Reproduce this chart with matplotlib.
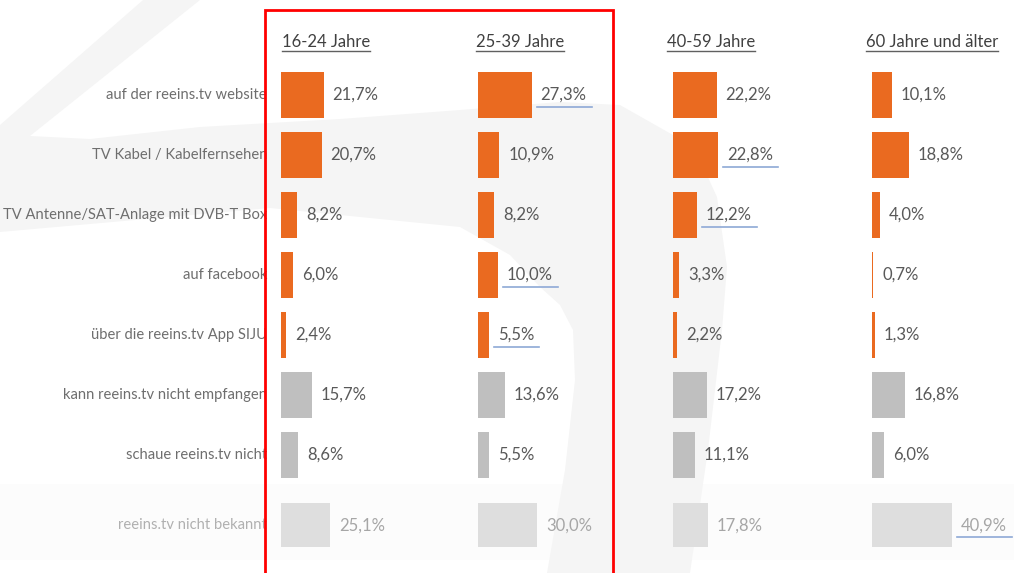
import matplotlib
matplotlib.use("Agg")
import matplotlib.pyplot as plt
from matplotlib.patches import Polygon, Rectangle
from matplotlib.lines import Line2D
from matplotlib.transforms import IdentityTransform

# ---------------- data ----------------
categories = [
    "auf der reeins.tv website",
    "TV Kabel / Kabelfernsehen",
    "TV Antenne/SAT-Anlage mit DVB-T Box",
    "auf facebook",
    "über die reeins.tv App SIJU",
    "kann reeins.tv nicht empfangen",
    "schaue reeins.tv nicht",
    "reeins.tv nicht bekannt",
]
groups = ["16-24 Jahre", "25-39 Jahre", "40-59 Jahre", "60 Jahre und älter"]
v_16_24 = [21.7, 20.7, 8.2, 6.0, 2.4, 15.7, 8.6, 25.1]
v_25_39 = [27.3, 10.9, 8.2, 10.0, 5.5, 13.6, 5.5, 30.0]
v_40_59 = [22.2, 22.8, 12.2, 3.3, 2.2, 17.2, 11.1, 17.8]
v_60_plus = [10.1, 18.8, 4.0, 0.7, 1.3, 16.8, 6.0, 40.9]
values = [v_16_24, v_25_39, v_40_59, v_60_plus]

# style: which value labels carry a blue underline (group index, row index)
underlined = {(1, 0), (1, 3), (1, 4), (2, 1), (2, 2), (3, 7)}

# ---------------- style ----------------
plt.rcParams['font.family'] = ['Lato', 'DejaVu Sans']
W, H = 1014, 573
ORANGE = '#EA6A20'
GRAY = '#BFBFBF'
LIGHT = '#DEDEDE'
bar_colors = [ORANGE] * 5 + [GRAY, GRAY, LIGHT]
val_colors = ['#595959'] * 7 + ['#A6A6A6']
cat_colors = ['#6E6E6E'] * 7 + ['#B0B0B0']

fig = plt.figure(figsize=(W / 100, H / 100), dpi=100)
fig.patch.set_facecolor('white')

# background (watermark) in pixel coordinates
bg = fig.add_axes([0, 0, 1, 1], zorder=-10)
bg.set_xlim(0, W)
bg.set_ylim(H, 0)
bg.axis('off')
WM = '#F5F5F5'
bg.add_patch(Rectangle((0, 484), W, 76, color='#FCFCFC', lw=0, zorder=0))
bg.add_patch(Polygon([
    (143, 0), (200, 0), (30, 136), (90, 139), (200, 127), (340, 119),
    (460, 110), (560, 102), (620, 105), (673, 135), (700, 160), (717, 197),
    (727, 267), (722, 330), (708, 450), (690, 573), (547, 573), (565, 470),
    (575, 380), (573, 330), (560, 305), (540, 287), (510, 255), (460, 227),
    (270, 208), (0, 232), (0, 125)], closed=True,
    color=WM, lw=0, zorder=1))

# ---------------- panels ----------------
lefts_px = [281, 478, 673, 872]
px_per_pct = 1.96
ax_w_px = 130
row_pos = [0, 1, 2, 3, 4, 5, 6, 7.17]
heights = [0.77] * 7 + [0.74]
row0_px, row_px = 95, 60
ax_top_px, ax_bot_px = 62, 562

val_texts = []
for gi, (vals, L) in enumerate(zip(values, lefts_px)):
    ax = fig.add_axes([L / W, 1 - ax_bot_px / H, ax_w_px / W,
                       (ax_bot_px - ax_top_px) / H])
    ax.set_xlim(0, ax_w_px / px_per_pct)
    ax.set_ylim((ax_bot_px - row0_px) / row_px, (ax_top_px - row0_px) / row_px)
    ax.axis('off')
    ax.patch.set_alpha(0)
    ax.barh(row_pos, vals, height=heights, color=bar_colors, lw=0)
    for ri, (y, v) in enumerate(zip(row_pos, vals)):
        t = ax.annotate(f"{v:.1f}".replace('.', ',') + '%', xy=(v, y),
                        xytext=(9, 0), textcoords='offset pixels',
                        ha='left', va='center', fontsize=12,
                        color=val_colors[ri])
        val_texts.append((gi, ri, t))
    if gi == 0:
        for ri, (y, c) in enumerate(zip(row_pos, categories)):
            ax.annotate(c, xy=(0, y), xytext=(-14, 0), textcoords='offset pixels',
                        ha='right', va='center', fontsize=10.6,
                        color=cat_colors[ri])

header_x = [282, 476, 667, 866]
header_texts = []
for g, x in zip(groups, header_x):
    header_texts.append(fig.text(x / W, 1 - 42 / H, g, ha='left', va='center',
                                 fontsize=12, color='#404040'))

fig.canvas.draw()
for t in header_texts:
    bb = t.get_window_extent()
    y = H - bb.y0 + 0.5
    bg.add_line(Line2D([bb.x0, bb.x1], [y, y], color='#606060', lw=1.0, zorder=5))
for gi, ri, t in val_texts:
    if (gi, ri) in underlined:
        bb = t.get_window_extent()
        y = H - bb.y0 + 4
        bg.add_line(Line2D([bb.x0 - 4, bb.x1 + 5], [y, y], color='#8EA9D6',
                           lw=1.2, zorder=5))

# red frame around the first two groups
fig.add_artist(Rectangle((265, -20), 348, H - 10 + 20, fill=False,
                         ec='#FF0000', lw=2, transform=IdentityTransform(),
                         zorder=20))

fig.savefig('out.png', dpi=100)
